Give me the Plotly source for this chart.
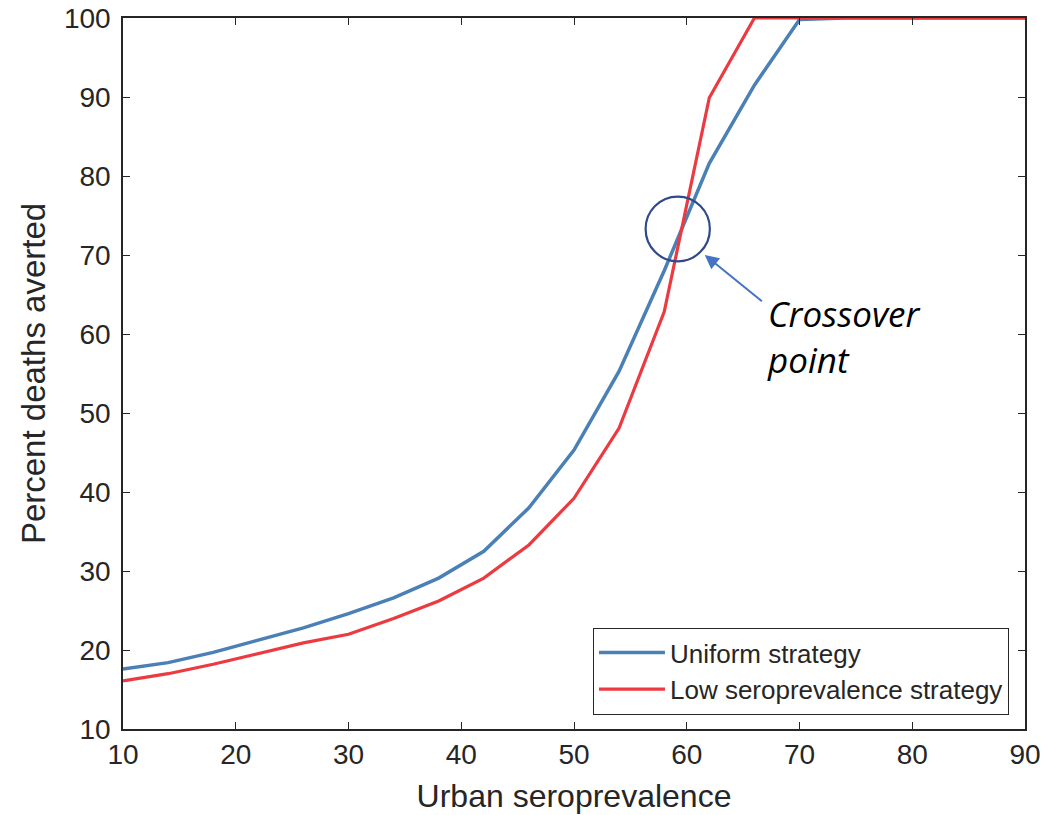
import plotly.graph_objects as go

seroprevalence = [10, 14, 18, 22, 26, 30, 34, 38, 42, 46, 50, 54, 58, 62, 66, 70, 74, 78, 82, 86, 90]
uniform = [17.6, 18.4, 19.7, 21.2, 22.8, 24.6, 26.6, 29.1, 32.5, 38.0, 45.3, 55.3, 68.0, 81.6, 91.5, 99.8, 100, 100, 100, 100, 100]
low_sero = [16.1, 17.0, 18.2, 19.5, 20.9, 22.0, 24.0, 26.2, 29.1, 33.3, 39.2, 48.1, 62.8, 89.9, 100, 100, 100, 100, 100, 100, 100]
x_ticks = [10, 20, 30, 40, 50, 60, 70, 80, 90]
y_ticks = [10, 20, 30, 40, 50, 60, 70, 80, 90, 100]

AX = "#262626"
FONT = "Liberation Sans, Arial, sans-serif"

fig = go.Figure()
fig.add_trace(go.Scatter(x=seroprevalence, y=uniform, mode="lines", name="Uniform strategy",
                         line=dict(color="#4A80B6", width=3.5)))
fig.add_trace(go.Scatter(x=seroprevalence, y=low_sero, mode="lines", name="Low seroprevalence strategy",
                         line=dict(color="#EC3A40", width=3.2)))

axis_common = dict(showline=True, linecolor=AX, linewidth=1.5, mirror="ticks", ticks="inside",
                   ticklen=7, tickwidth=1.2, tickcolor=AX, showgrid=False, zeroline=False,
                   automargin=False, ticklabeloverflow="allow",
                   tickfont=dict(family=FONT, size=28, color=AX))
fig.update_xaxes(range=[10, 90], tickvals=x_ticks, ticktext=[str(v) for v in x_ticks],
                 title=dict(text="Urban seroprevalence", font=dict(family=FONT, size=32, color=AX), standoff=15),
                 **axis_common)
fig.update_yaxes(range=[10, 100], tickvals=y_ticks, ticktext=[str(v) for v in y_ticks],
                 ticklabelstandoff=5,
                 title=dict(text="Percent deaths averted", font=dict(family=FONT, size=33, color=AX), standoff=8),
                 **axis_common)

# crossover circle
fig.add_shape(type="circle", xref="x", yref="y", x0=56.35, x1=62.05, y0=69.2, y1=77.4,
              line=dict(color="#2E4A8C", width=2.2))
# arrow
fig.add_annotation(x=61.6, y=70.0, ax=66.8, ay=64.0, xref="x", yref="y", axref="x", ayref="y",
                   text="", showarrow=True, arrowhead=2, arrowsize=1.4, arrowwidth=2,
                   arrowcolor="#4472C4", standoff=0)
fig.add_annotation(x=66.9, y=65.8, xref="x", yref="y", xanchor="left", yanchor="top",
                   text="<i>Crossover<br>point</i>", showarrow=False, align="left",
                   font=dict(family="Open Sans, sans-serif", size=35, color="black"))

fig.update_layout(
    width=1063, height=815,
    margin=dict(l=123, r=38, t=18, b=86),
    paper_bgcolor="white", plot_bgcolor="white",
    showlegend=True,
    legend=dict(x=0.982, y=0.02, xanchor="right", yanchor="bottom",
                bgcolor="white", bordercolor=AX, borderwidth=1.2,
                font=dict(family=FONT, size=26, color=AX), tracegroupgap=0,
                itemwidth=66),
)

fig.write_html("out.html", config={"displayModeBar": False},
               post_script="document.body.style.margin='0px';")
